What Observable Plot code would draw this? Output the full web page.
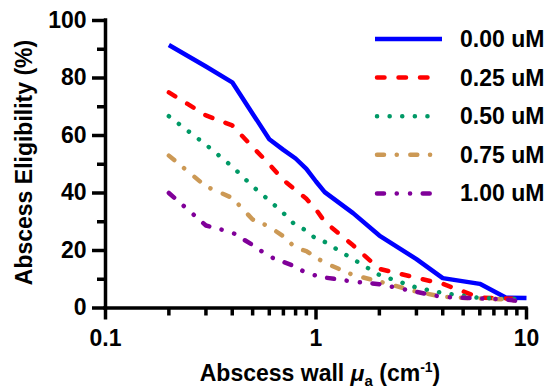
<!DOCTYPE html>
<html><head><meta charset="utf-8">
<script src="https://cdn.jsdelivr.net/npm/d3@7"></script>
<script src="https://cdn.jsdelivr.net/npm/@observablehq/plot@0.6"></script>
<style>
body{margin:0;background:#fff;}
svg{font-family:"Liberation Sans",Arial,sans-serif;font-weight:bold;}
</style></head><body><div id="chart"></div>
<script>
// ---- data ----
const xValues = [0.2,0.3,0.4,0.5,0.6,0.7,0.8,0.9,1.0,1.1,1.5,2,3,4,6,8,10];
const c000 = [91.5,84,78.5,67.6,58.7,55,52,48.4,44,40.3,33,25.2,17,10.4,8.4,3.6,3.5];
const c025 = [75,67,63.5,56,50,44.5,41,38,34.3,30,21.8,13.6,10.5,8.4,3.6,3.3,3];
const c050 = [66.7,56.8,49.2,42.3,37.4,33,28.7,27,24,23,17,11.5,7.1,5.2,3.5,3.2,3];
const c075 = [53,42.3,38.3,30.8,28.3,24.9,20.9,19.8,17.6,15.7,11.5,9.2,5.7,3.9,3.3,3,2];
const c100 = [40,28.7,26.3,21.9,17.9,16,14.4,12.1,11.3,10.6,9.2,8.3,5.6,3.8,3.3,3,2];
const seriesNames = ["0.00 uM","0.25 uM","0.50 uM","0.75 uM","1.00 uM"];
const seriesValues = [c000,c025,c050,c075,c100];
const xMajorTicks = [0.1,1,10];
const xMinorTicks = [0.2,0.3,0.4,0.5,0.6,0.7,0.8,0.9,2,3,4,5,6,7,8,9];
const yMajorTicks = [0,20,40,60,80,100];
const yMinorTicks = [10,30,50,70,90];

// ---- styles ----
const colors = ["#0000ff","#ff0000","#009966","#cc9955","#800099"];
const dashes = [null,"7.5,14","0.1,12.5","7,12.7,0.1,13.5","7,12.7,0.1,13.2,0.1,12.6"];
const caps = ["butt","round","round","round","round"];
const lw = 4.5;
const fs = 23;

const rows = [];
seriesNames.forEach((name,i)=>seriesValues[i].forEach((v,j)=>rows.push({series:name,x:xValues[j],y:v})));

const marks = [];
seriesNames.forEach((name,i)=>{
  marks.push(Plot.line(rows.filter(d=>d.series===name),{x:"x",y:"y",stroke:colors[i],strokeWidth:lw,
    strokeDasharray:dashes[i]||undefined,strokeLinecap:caps[i],strokeLinejoin:"round"}));
});

const plot = Plot.plot({
  width:545, height:389,
  marginTop:20, marginBottom:81.5, marginLeft:105, marginRight:19,
  style:{fontFamily:"'Liberation Sans',Arial,sans-serif",background:"#fff",color:"#000",overflow:"visible"},
  x:{type:"log",domain:[0.1,10]},
  y:{domain:[0,100]},
  marks:[
    ...marks,
    Plot.axisX(xMajorTicks,{tickSize:12,tickPadding:10,strokeWidth:3.5,fontSize:fs,fontWeight:"bold",tickFormat:d=>String(d),label:null}),
    Plot.axisX(xMinorTicks,{tickSize:8,strokeWidth:3.5,tickFormat:()=>"",label:null}),
    Plot.axisY(yMajorTicks,{tickSize:13,tickPadding:6,strokeWidth:3.5,fontSize:fs,fontWeight:"bold",label:null}),
    Plot.axisY(yMinorTicks,{tickSize:8,strokeWidth:3.5,tickFormat:()=>"",label:null}),
    Plot.ruleY([0],{strokeWidth:3.5,strokeLinecap:"square"}),
    Plot.ruleX([0.1],{y1:0,y2:100,strokeWidth:3.5,strokeLinecap:"square"})
  ]
});
document.getElementById("chart").appendChild(plot);

const svg = d3.select(plot);
// legend
const lg = svg.append("g").attr("text-anchor","start");
seriesNames.forEach((name,i)=>{
  const y = 39 + i*38.6;
  lg.append("line").attr("x1",i===0?375:377).attr("x2",i===0?442:440).attr("y1",y).attr("y2",y)
    .attr("stroke",colors[i]).attr("stroke-width",lw)
    .attr("stroke-dasharray",dashes[i]).attr("stroke-linecap",caps[i]);
  lg.append("text").attr("x",460).attr("y",y+8).attr("font-size",fs).attr("font-weight","bold")
    .attr("text-anchor","start").attr("fill","#000").text(name);
});
// y label
svg.append("text").attr("transform","translate(32,162.5) rotate(-90)").attr("text-anchor","middle")
  .attr("font-size",fs).attr("font-weight","bold").attr("fill","#000").text("Abscess Eligibility (%)");
// x label
const xl = svg.append("text").attr("x",320).attr("y",380.5).attr("text-anchor","middle")
  .attr("font-size",fs).attr("font-weight","bold").attr("fill","#000");
xl.append("tspan").text("Abscess wall ");
xl.append("tspan").attr("font-style","italic").text("μ");
xl.append("tspan").attr("dy",5).attr("font-size",15).text("a");
xl.append("tspan").attr("dy",-5).text(" (cm");
xl.append("tspan").attr("dy",-9).attr("font-size",14).text("-1");
xl.append("tspan").attr("dy",9).text(")");
</script></body></html>
